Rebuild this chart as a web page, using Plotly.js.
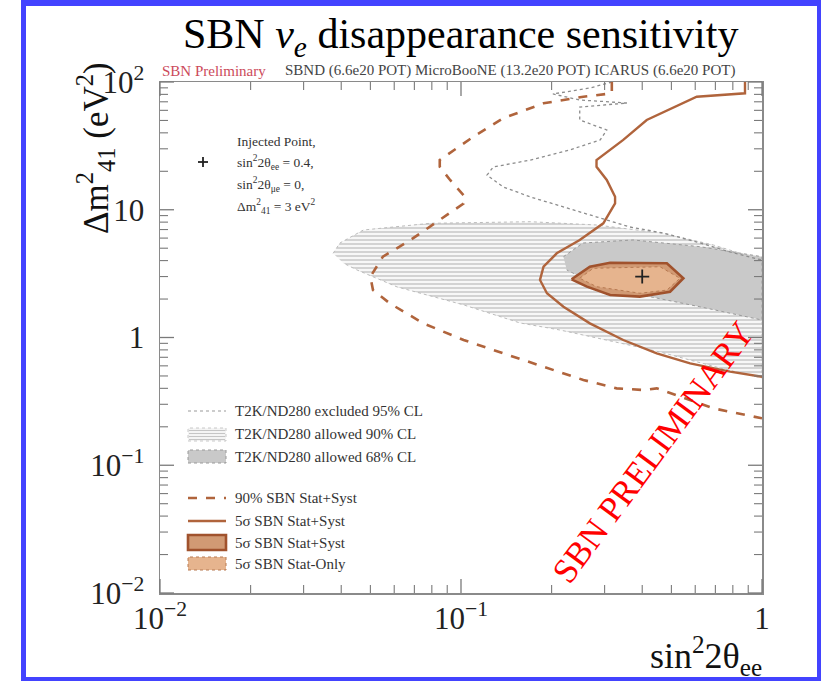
<!DOCTYPE html>
<html>
<head>
<meta charset="utf-8">
<script src="https://cdn.plot.ly/plotly-3.0.1.min.js"></script>
<style>
  html,body{margin:0;padding:0;background:#fff;}
  #chart{width:821px;height:681px;position:relative;}
  #frame{position:absolute;left:21px;top:0;width:800px;height:681px;box-sizing:border-box;
    border:5px solid #4343ff;border-top-width:6px;border-right-width:4px;border-bottom-width:4px;pointer-events:none;}
</style>
</head>
<body>
<div id="chart"></div>
<div id="frame"></div>
<script>
// ---------------- data (sin^2 2theta_ee , Delta m^2_41 [eV^2]) ----------------
const dashed90_x = [0.317,0.317,0.255,0.188,0.138,0.110,0.085,0.085,0.092,0.103,0.102,0.085,0.068,0.055,0.050,0.051,0.058,0.075,0.102,0.138,0.188,0.255,0.329,0.403,0.447,0.534,0.689,1.0];
const dashed90_y = [100,81.6,76.7,68.1,52.0,37.3,24.5,21.7,17.1,12.65,11.2,8.32,5.80,4.29,2.99,2.35,1.85,1.29,0.956,0.752,0.591,0.465,0.400,0.388,0.400,0.344,0.279,0.233];

const solid5s_x = [0.878,0.878,0.607,0.414,0.346,0.282,0.282,0.305,0.325,0.325,0.297,0.248,0.208,0.188,0.183,0.193,0.219,0.268,0.346,0.447,0.577,0.783,1.0];
const solid5s_y = [100,81.6,76.7,50.4,35.2,24.5,21.7,17.1,12.65,11.2,7.83,5.80,4.56,3.58,2.82,2.22,1.74,1.29,0.956,0.752,0.628,0.540,0.493];

const t2kExcl_x = [0.317,0.268,0.202,0.248,0.356,0.248,0.248,0.275,0.305,0.290,0.230,0.170,0.128,0.122,0.138,0.170,0.218,0.283,0.364,0.469,0.608,0.783,1.0];
const t2kExcl_y = [100,89.7,80.6,72.3,68.5,63.7,50.4,46.1,42.1,35.2,29.4,24.5,21.6,18.7,15.1,12.6,10.5,8.77,7.33,6.58,5.59,4.67,4.04];

const t2k90_x = [0.0376,0.0396,0.0474,0.0789,0.170,0.282,0.470,0.689,1.0,1.0,0.725,0.458,0.337,0.213,0.157,0.102,0.0613,0.0451,0.0406];
const t2k90_y = [4.56,5.49,6.94,7.83,8.06,7.60,6.54,5.30,4.04,0.482,0.577,0.770,0.906,1.145,1.30,1.80,2.49,3.38,3.83];

const t2k68_x = [0.219,0.254,0.373,0.622,1.0,1.0,0.622,0.425,0.290,0.2245];
const t2k68_y = [4.29,5.49,5.80,5.14,4.29,1.37,1.74,2.09,2.50,3.38];

const sbn5sSyst_x = [0.233,0.268,0.313,0.483,0.548,0.495,0.393,0.313,0.262,0.233];
const sbn5sSyst_y = [2.855,3.58,3.85,3.81,2.91,2.28,2.09,2.15,2.50,2.855];

const sbn5sStat_x = [0.248,0.275,0.458,0.534,0.483,0.393,0.282,0.248];
const sbn5sStat_y = [2.91,3.48,3.58,2.91,2.35,2.22,2.50,2.91];

const injected_x = [0.4];
const injected_y = [3];

const xTickVals = [0.01,0.1,1];
const xTickText = ['10<sup>−2</sup>','10<sup>−1</sup>','1'];
const yTickVals = [0.01,0.1,1,10,100];
const yTickText = ['10<sup>−2</sup>','10<sup>−1</sup>','1','10','10<sup>2</sup>'];

const legendLabels = ['T2K/ND280 excluded 95% CL','T2K/ND280 allowed 90% CL','T2K/ND280 allowed 68% CL',
  '90% SBN Stat+Syst','5σ SBN Stat+Syst','5σ SBN Stat+Syst','5σ SBN Stat-Only'];
const injectedLabels = ['Injected Point,','sin<sup>2</sup>2θ<sub>ee</sub> = 0.4,','sin<sup>2</sup>2θ<sub>μe</sub> = 0,','Δm<sup>2</sup><sub>41</sub> = 3 eV<sup>2</sup>'];

// ---------------- styling ----------------
const SERIF = 'Liberation Serif, Times New Roman, serif';
const BROWN = '#b0643c';
const BROWN_D = '#a0522d';
const FILL_SYST = '#d19a74';
const FILL_STAT = '#e6b48e';
const L = 160, T = 82, W = 602, H = 511;
const X_LOG = [-2, 0], Y_LOG = [-2, 2];
const px = v => (v - L) / W;
const py = v => (T + H - v) / H;

function minorVals(lo, hi){ const a=[]; for(let d=lo; d<hi; d++){ for(let k=2;k<=9;k++){ a.push(k*Math.pow(10,d)); } } return a; }
const xMinor = minorVals(X_LOG[0], X_LOG[1]), yMinor = minorVals(Y_LOG[0], Y_LOG[1]);

const traces = [
  {x:t2k90_x, y:t2k90_y, type:'scatter', mode:'lines', fill:'toself',
   fillcolor:'#f6f6f6', fillpattern:{shape:'-', size:4, solidity:0.25, fgcolor:'#b0b0b0', bgcolor:'#f7f7f7'},
   line:{color:'#bcbcbc', width:1, dash:'dot'}, hoverinfo:'skip'},
  {x:t2k68_x, y:t2k68_y, type:'scatter', mode:'lines', fill:'toself', fillcolor:'#c9c9c9',
   line:{color:'#9a9a9a', width:1, dash:'dot'}, hoverinfo:'skip'},
  {x:t2kExcl_x, y:t2kExcl_y, type:'scatter', mode:'lines', line:{color:'#8c8c8c', width:1.3, dash:'dot'}, hoverinfo:'skip'},
  {x:dashed90_x, y:dashed90_y, type:'scatter', mode:'lines', line:{color:BROWN, width:2.6, dash:'dash'}, hoverinfo:'skip'},
  {x:solid5s_x, y:solid5s_y, type:'scatter', mode:'lines', line:{color:BROWN, width:2.4}, hoverinfo:'skip'},
  {x:sbn5sSyst_x, y:sbn5sSyst_y, type:'scatter', mode:'lines', fill:'toself', fillcolor:FILL_SYST,
   line:{color:BROWN_D, width:2.6}, hoverinfo:'skip'},
  {x:sbn5sStat_x, y:sbn5sStat_y, type:'scatter', mode:'lines', fill:'toself', fillcolor:FILL_STAT,
   line:{color:'#b87a52', width:1, dash:'dot'}, hoverinfo:'skip'},
  {x:injected_x, y:injected_y, type:'scatter', mode:'markers',
   marker:{symbol:'cross-thin', size:10, line:{color:'#222', width:1.8}}, hoverinfo:'skip'}
];

const axisCommon = {
  type:'log', showgrid:false, zeroline:false, showline:true, linecolor:'#8a8a8a', linewidth:1.5,
  mirror:true, ticks:'', tickfont:{family:SERIF, size:31, color:'#222'}, tickmode:'array'
};

const shapes = [];
const annotations = [];
// tick marks on all four sides (paper coordinates from log positions)
const TICK = '#7a7a7a';
function xFrac(v){ return (Math.log10(v) - X_LOG[0]) / (X_LOG[1] - X_LOG[0]); }
function yFrac(v){ return (Math.log10(v) - Y_LOG[0]) / (Y_LOG[1] - Y_LOG[0]); }
function addXTick(v, len, w){
  const f = xFrac(v);
  shapes.push({type:'line', xref:'paper', yref:'paper', x0:f, x1:f, y0:0, y1:len/H, line:{color:TICK, width:w}});
  shapes.push({type:'line', xref:'paper', yref:'paper', x0:f, x1:f, y0:1, y1:1-len/H, line:{color:TICK, width:w}});
}
function addYTick(v, len, w){
  const f = yFrac(v);
  shapes.push({type:'line', xref:'paper', yref:'paper', y0:f, y1:f, x0:0, x1:len/W, line:{color:TICK, width:w}});
  shapes.push({type:'line', xref:'paper', yref:'paper', y0:f, y1:f, x0:1, x1:1-len/W, line:{color:TICK, width:w}});
}
xTickVals.forEach(v=>addXTick(v, 14, 1.3));
xMinor.forEach(v=>addXTick(v, 8, 1.1));
yTickVals.forEach(v=>addYTick(v, 14, 1.3));
yMinor.forEach(v=>addYTick(v, 8, 1.1));

const LX0 = 188, LX1 = 226, TX = 233;
// legend keys
shapes.push({type:'line', xref:'paper', yref:'paper', x0:px(LX0), x1:px(LX1), y0:py(411), y1:py(411), line:{color:'#999', width:1.2, dash:'dot'}});
shapes.push({type:'rect', xref:'paper', yref:'paper', x0:px(LX0), x1:px(LX1), y0:py(441), y1:py(428), fillcolor:'#f4f4f4', line:{color:'#bbb', width:0.8, dash:'dot'}});
for (const yy of [430.5,433.5,436.5,439.5]) shapes.push({type:'line', xref:'paper', yref:'paper', x0:px(LX0+1), x1:px(LX1-1), y0:py(yy), y1:py(yy), line:{color:'#b0b0b0', width:0.7}});
shapes.push({type:'rect', xref:'paper', yref:'paper', x0:px(LX0), x1:px(LX1), y0:py(463), y1:py(450), fillcolor:'#c9c9c9', line:{color:'#999', width:1, dash:'dot'}});
shapes.push({type:'line', xref:'paper', yref:'paper', x0:px(LX0), x1:px(LX1), y0:py(498), y1:py(498), line:{color:BROWN, width:2.6, dash:'dash'}});
shapes.push({type:'line', xref:'paper', yref:'paper', x0:px(LX0), x1:px(LX1), y0:py(521), y1:py(521), line:{color:BROWN, width:2.4}});
shapes.push({type:'rect', xref:'paper', yref:'paper', x0:px(LX0), x1:px(LX1), y0:py(550), y1:py(535), fillcolor:FILL_SYST, line:{color:BROWN_D, width:2.6}});
shapes.push({type:'rect', xref:'paper', yref:'paper', x0:px(LX0), x1:px(LX1), y0:py(570), y1:py(557), fillcolor:FILL_STAT, line:{color:'#b87a52', width:1, dash:'dot'}});
const legendY = [411,434.5,456.5,498,521,542.5,563.5];
legendLabels.forEach((t,i)=>annotations.push({text:t, xref:'paper', yref:'paper', x:px(TX), y:py(legendY[i]), xanchor:'left', yanchor:'middle', showarrow:false, font:{family:SERIF, size:15, color:'#333'}}));
// injected point block
shapes.push({type:'line', xref:'paper', yref:'paper', x0:px(198), x1:px(208), y0:py(162), y1:py(162), line:{color:'#222', width:1.8}});
shapes.push({type:'line', xref:'paper', yref:'paper', x0:px(203), x1:px(203), y0:py(157), y1:py(167), line:{color:'#222', width:1.8}});
const injY = [141,162,184,206];
injectedLabels.forEach((t,i)=>annotations.push({text:t, xref:'paper', yref:'paper', x:px(235), y:py(injY[i]), xanchor:'left', yanchor:'middle', showarrow:false, font:{family:SERIF, size:13.5, color:'#333'}}));
// titles
annotations.push({text:'SBN <i>ν<sub>e</sub></i> disappearance sensitivity', xref:'paper', yref:'paper', x:px(460), y:py(37), xanchor:'center', yanchor:'middle', showarrow:false, font:{family:SERIF, size:42, color:'#000'}});
annotations.push({text:'SBN Preliminary', xref:'paper', yref:'paper', x:px(160), y:py(71), xanchor:'left', yanchor:'middle', showarrow:false, font:{family:SERIF, size:15, color:'#cc4a5a'}});
annotations.push({text:'SBND (6.6e20 POT) MicroBooNE (13.2e20 POT) ICARUS (6.6e20 POT)', xref:'paper', yref:'paper', x:px(283), y:py(71), xanchor:'left', yanchor:'middle', showarrow:false, font:{family:SERIF, size:15, color:'#444'}});
annotations.push({text:'sin<sup>2</sup>2θ<sub>ee</sub>', xref:'paper', yref:'paper', x:px(764), y:py(656), xanchor:'right', yanchor:'middle', showarrow:false, font:{family:SERIF, size:36, color:'#111'}});
annotations.push({text:'Δm<sup>2</sup><sub>41</sub> (eV<sup>2</sup>)', xref:'paper', yref:'paper', x:px(95), y:py(148), xanchor:'center', yanchor:'middle', textangle:-90, showarrow:false, font:{family:SERIF, size:35, color:'#111'}});
annotations.push({text:'SBN PRELIMINARY', xref:'paper', yref:'paper', x:px(653), y:py(452), xanchor:'center', yanchor:'middle', textangle:-53.6, showarrow:false, font:{family:SERIF, size:35, color:'#ff0000'}});

const layout = {
  width:821, height:681, paper_bgcolor:'#fff', plot_bgcolor:'#fff', showlegend:false,
  margin:{l:L, r:821-L-W, t:T, b:681-T-H, pad:0},
  xaxis:Object.assign({}, axisCommon, {range:X_LOG, tickvals:xTickVals, ticktext:xTickText, ticklabelstandoff:-3}),
  yaxis:Object.assign({}, axisCommon, {range:Y_LOG, tickvals:yTickVals, ticktext:yTickText, ticklabelstandoff:8}),
  shapes:shapes, annotations:annotations
};

Plotly.newPlot('chart', traces, layout, {staticPlot:true, displayModeBar:false});
</script>
</body>
</html>
